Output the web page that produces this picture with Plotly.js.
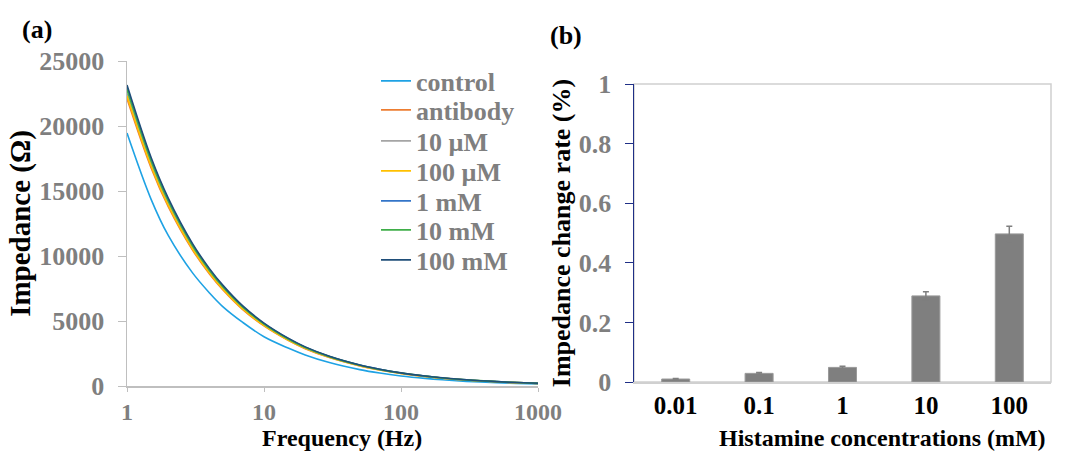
<!DOCTYPE html>
<html>
<head>
<meta charset="utf-8">
<script src="https://cdn.plot.ly/plotly-3.0.1.min.js"></script>
<style>html,body{margin:0;padding:0;background:#fff;}#chart{width:1065px;height:455px;}</style>
</head>
<body>
<div id="chart"></div>
<script>
// ---- Panel (a): impedance spectra ----
const frequency = [1, 1.5, 2, 3, 4, 5, 7, 10, 15, 20, 30, 50, 70, 100, 150, 200, 300, 500, 700, 1000];
const control  = [19460, 14360, 11580, 8720, 7160, 6110, 4890, 3790, 2920, 2390, 1800, 1260, 995, 775, 584, 477, 359, 251, 198, 154];
const antibody = [22100, 16780, 13800, 10480, 8620, 7410, 5880, 4620, 3510, 2870, 2190, 1550, 1230, 965, 735, 600, 460, 325, 255, 200];
const uM10     = [22500, 17080, 14050, 10660, 8780, 7540, 5990, 4700, 3580, 2930, 2230, 1570, 1250, 980, 750, 610, 465, 330, 260, 200];
const uM100    = [22300, 16920, 13910, 10560, 8700, 7470, 5930, 4660, 3540, 2900, 2210, 1560, 1240, 970, 740, 605, 460, 325, 260, 200];
const mM1      = [22940, 17410, 14320, 10870, 8950, 7690, 6100, 4800, 3650, 2980, 2270, 1610, 1280, 1000, 760, 620, 475, 335, 265, 205];
const mM10     = [22800, 17310, 14230, 10810, 8890, 7640, 6070, 4770, 3620, 2960, 2260, 1600, 1270, 995, 760, 620, 470, 335, 265, 205];
const mM100    = [23150, 17570, 14450, 10970, 9030, 7760, 6160, 4840, 3680, 3010, 2290, 1620, 1290, 1010, 770, 630, 480, 340, 270, 210];
const seriesNames = ['control', 'antibody', '10 µM', '100 µM', '1 mM', '10 mM', '100 mM'];
const freqTicks = [1, 10, 100, 1000];
const freqTickText = ['1', '10', '100', '1000'];

// ---- Panel (b): impedance change rate ----
const concentrations = ['0.01', '0.1', '1', '10', '100'];
const changeRate = [0.010, 0.029, 0.049, 0.289, 0.497];
const changeErr  = [0.002, 0.003, 0.004, 0.014, 0.026];

const seriesData = [control, antibody, uM10, uM100, mM1, mM10, mM100];
const colors = ['#1ea2e4', '#ed7d31', '#a5a5a5', '#ffc000', '#3375c8', '#3fae49', '#1f4e79'];

const W = 1065, H = 455;
const FONT = 'Liberation Serif';
const GRAY = '#7f7f7f';

const traces = [];
const legendRows = [81, 110, 141, 171, 201, 230, 260];
const layoutLegends = {};
seriesData.forEach((ys, i) => {
  const key = i === 0 ? 'legend' : 'legend' + (i + 1);
  traces.push({
    type: 'scatter', mode: 'lines', x: frequency, y: ys, name: seriesNames[i],
    line: {color: colors[i], width: 1.6, shape: 'spline', smoothing: 1},
    xaxis: 'x', yaxis: 'y', legend: key
  });
  layoutLegends[key] = {
    x: 376 / W, y: 1 - legendRows[i] / H, xanchor: 'left', yanchor: 'middle',
    bgcolor: 'rgba(0,0,0,0)', borderwidth: 0,
    font: {family: FONT, size: 26, color: GRAY, weight: 'bold'}
  };
});
traces.push({
  type: 'bar', x: concentrations, y: changeRate, xaxis: 'x2', yaxis: 'y2', showlegend: false,
  marker: {color: '#7f7f7f', line: {color: '#9a9a9a', width: 1}},
  error_y: {type: 'data', array: changeErr, visible: true, color: '#7f7f7f', thickness: 1.5, width: 3}
});

function f(size, color) { return {family: FONT, size: size, color: color, weight: 'bold'}; }

const layout = Object.assign({
  width: W, height: H,
  margin: {l: 0, r: 0, t: 0, b: 0},
  paper_bgcolor: '#fff', plot_bgcolor: 'rgba(0,0,0,0)',
  font: {family: FONT, size: 26, color: '#000', weight: 'bold'},
  showlegend: true,
  bargap: 0.664,
  xaxis: {
    type: 'log', domain: [127 / W, 538 / W], range: [0, 3],
    tickvals: freqTicks, ticktext: freqTickText,
    showgrid: false, zeroline: false, showline: true, linecolor: '#bfbfbf', linewidth: 1.5,
    ticks: 'outside', ticklen: 4, tickcolor: '#bfbfbf', tickfont: f(24, GRAY),
    anchor: 'y'
  },
  yaxis: {
    domain: [1 - 386 / H, 1 - 61 / H], range: [0, 25000], dtick: 5000, tickformat: 'd',
    showgrid: false, zeroline: false, showline: true, linecolor: '#bfbfbf', linewidth: 1.5,
    ticks: 'outside', ticklen: 8, tickcolor: '#bfbfbf', tickfont: f(26, GRAY), ticklabelstandoff: 8,
    title: {text: 'Impedance (Ω)', font: f(29, '#000'), standoff: 0},
    anchor: 'x'
  },
  xaxis2: {
    type: 'category', domain: [634 / W, 1051 / W],
    showgrid: false, zeroline: false, showline: true, linecolor: '#d0d0d0', linewidth: 1.5,
    ticks: '', tickfont: f(25, '#000'),
    anchor: 'y2'
  },
  yaxis2: {
    domain: [1 - 382 / H, 1 - 84 / H], range: [0, 1], dtick: 0.2,
    showgrid: false, zeroline: false, showline: true, linecolor: '#1f2f86', linewidth: 1.5,
    ticks: 'outside', ticklen: 8, tickcolor: '#1f2f86', tickfont: f(26, GRAY), ticklabelstandoff: 8,
    title: {text: 'Impedance change rate (%)', font: f(26, '#000'), standoff: 0},
    anchor: 'x2'
  },
  shapes: [{
    type: 'rect', xref: 'x2 domain', yref: 'y2 domain', x0: 0, x1: 1, y0: 0, y1: 1,
    line: {color: '#d0d0d0', width: 1.5}, layer: 'below'
  }],
  annotations: [
    {text: '(a)', xref: 'paper', yref: 'paper', x: 37 / W, y: 1 - 30 / H, xanchor: 'center', yanchor: 'middle',
     showarrow: false, font: f(26, '#000')},
    {text: '(b)', xref: 'paper', yref: 'paper', x: 566 / W, y: 1 - 36 / H, xanchor: 'center', yanchor: 'middle',
     showarrow: false, font: f(26, '#000')},
    {text: 'Frequency (Hz)', xref: 'paper', yref: 'paper', x: 342 / W, y: 1 - 438 / H, xanchor: 'center', yanchor: 'middle',
     showarrow: false, font: f(24, '#000')},
    {text: 'Histamine concentrations (mM)', xref: 'paper', yref: 'paper', x: 882 / W, y: 1 - 438 / H, xanchor: 'center', yanchor: 'middle',
     showarrow: false, font: f(24, '#000')}
  ]
}, layoutLegends);

Plotly.newPlot('chart', traces, layout, {displayModeBar: false, staticPlot: true});
</script>
</body>
</html>
